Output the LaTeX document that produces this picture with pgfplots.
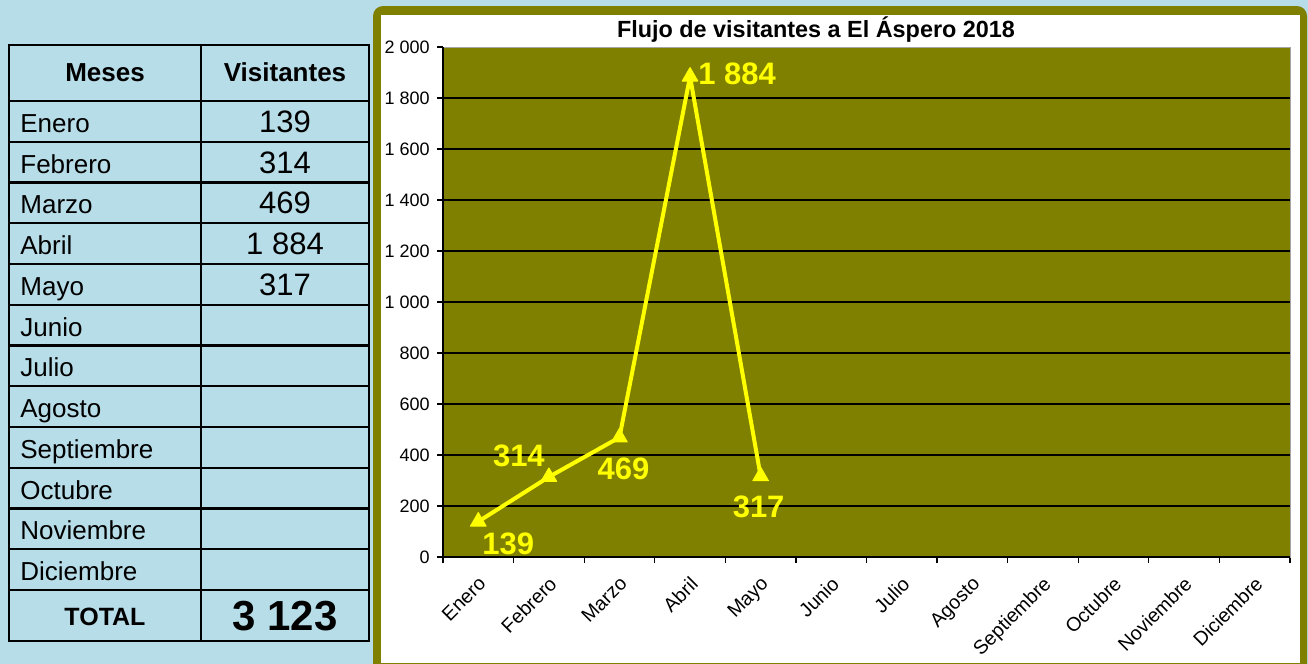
\documentclass[border=0pt]{standalone}
\usepackage{pgfplots}
\pgfplotsset{compat=1.18}
\usepackage{pgfplotstable}
\usepackage{fontspec}
\setmainfont{Liberation Sans}
\definecolor{bgblue}{HTML}{B7DDE8}
\definecolor{oliv}{HTML}{808000}
\definecolor{yel}{HTML}{FFFF00}

\pgfplotstableread{
x y dx dy
0 139 15 -11.2
1 314 -15 10.5
2 469 2 -15.8
3 1884 23.5 1.3
4 317 -1 -15.4
}\visitas

\begin{document}
\begin{tikzpicture}
\useasboundingbox (0,0) rectangle (654pt,-332pt);
\begin{scope}[x=0.5pt,y=-0.5pt]
\fill[bgblue] (0,0) rectangle (1308,664);
\fill[oliv, rounded corners=5pt] (373,6) rectangle (1307,690);
\fill[white] (381,15) rectangle (1300,663);
% table
\foreach \k in {1,...,11} {
  \draw[line width=1.1pt] (9,{101+\k*40.75}) -- (369,{101+\k*40.75});
}
\draw[line width=1.1pt] (9,101) -- (369,101);
\draw[line width=1.4pt] (9,590) -- (369,590);
\draw[line width=1.1pt] (201,45) -- (201,641);
\draw[line width=1.4pt] (9,45) rectangle (369,641);
\node[anchor=base, inner sep=0pt, font=\bfseries\fontsize{13}{15}\selectfont] at (105,82) {Meses};
\node[anchor=base, inner sep=0pt, font=\bfseries\fontsize{13}{15}\selectfont] at (285,82) {Visitantes};
\foreach \m [count=\i] in {Enero,Febrero,Marzo,Abril,Mayo,Junio,Julio,Agosto,Septiembre,Octubre,Noviembre,Diciembre} {
  \node[anchor=base west, inner sep=0pt, font=\fontsize{13}{15}\selectfont] at (20,{101+(\i-1)*40.75+31.3}) {\m};
}
\foreach \v [count=\i] in {139,314,469,1\ 884,317} {
  \node[anchor=base, inner sep=0pt, font=\fontsize{15.5}{17}\selectfont] at (285,{101+(\i-1)*40.75+31.3}) {\v};
}
\node[anchor=base, inner sep=0pt, font=\bfseries\fontsize{12.5}{14}\selectfont] at (105,625) {TOTAL};
\node[anchor=base, inner sep=0pt, font=\bfseries\fontsize{21}{23}\selectfont] at (285,630) {3 123};
% title
\node[anchor=base, inner sep=0pt, font=\bfseries\fontsize{11.7}{13}\selectfont] at (816,37.5) {Flujo de visitantes a El Áspero 2018};
\end{scope}
\begin{axis}[
  at={(221.5pt,-278.5pt)}, anchor=south west,
  width=423.5pt, height=255pt, scale only axis,
  xmin=-0.5, xmax=11.5, ymin=0, ymax=2000,
  axis background/.style={fill=oliv},
  axis line style={draw=gray!70, line width=0.5pt},
  xtick={0,...,11},
  xticklabels={Enero,Febrero,Marzo,Abril,Mayo,Junio,Julio,Agosto,Septiembre,Octubre,Noviembre,Diciembre},
  minor xtick={-0.5,0.5,...,11.5},
  major x tick style={draw=none},
  minor tick length=3pt, major tick length=3pt,
  tick align=outside,
  xtick pos=bottom, ytick pos=left,
  ytick={0,200,...,1800},
  yticklabels={0,200,400,600,800,1 000,1 200,1 400,1 600,1 800},
  extra y ticks={2000},
  extra y tick labels={2 000},
  extra y tick style={grid=none},
  ymajorgrids, grid style={black, line width=0.75pt},
  tick style={black, line width=0.6pt},
  xticklabel style={xshift=-0.5pt, yshift=-6pt, rotate=45, anchor=north east, inner sep=0pt, font=\fontsize{9.8}{11}\selectfont},
  yticklabel style={anchor=east, inner sep=0pt, font=\fontsize{9}{10}\selectfont, xshift=-3.5pt},
  clip=false,
]
\draw[black, line width=0.75pt] (rel axis cs:0,1) -- (rel axis cs:0,0) -- (rel axis cs:1,0);
\addplot[yel, line width=2pt, line join=round, mark=triangle*, mark size=4.5pt,
  mark options={fill=yel, draw=yel, line width=0.5pt},
  point meta=y,
  visualization depends on={\thisrow{dx}\as\dx},
  visualization depends on={\thisrow{dy}\as\dy},
  nodes near coords,
  every node near coord/.append style={anchor=center, xshift=\dx*1pt, yshift=\dy*1pt,
    font=\bfseries\fontsize{15.5}{17}\selectfont, text=yel, inner sep=0pt,
    /pgf/number format/assume math mode=true, /pgf/number format/1000 sep={\ }},
] table[x=x,y=y] {\visitas};
\end{axis}
\end{tikzpicture}
\end{document}
